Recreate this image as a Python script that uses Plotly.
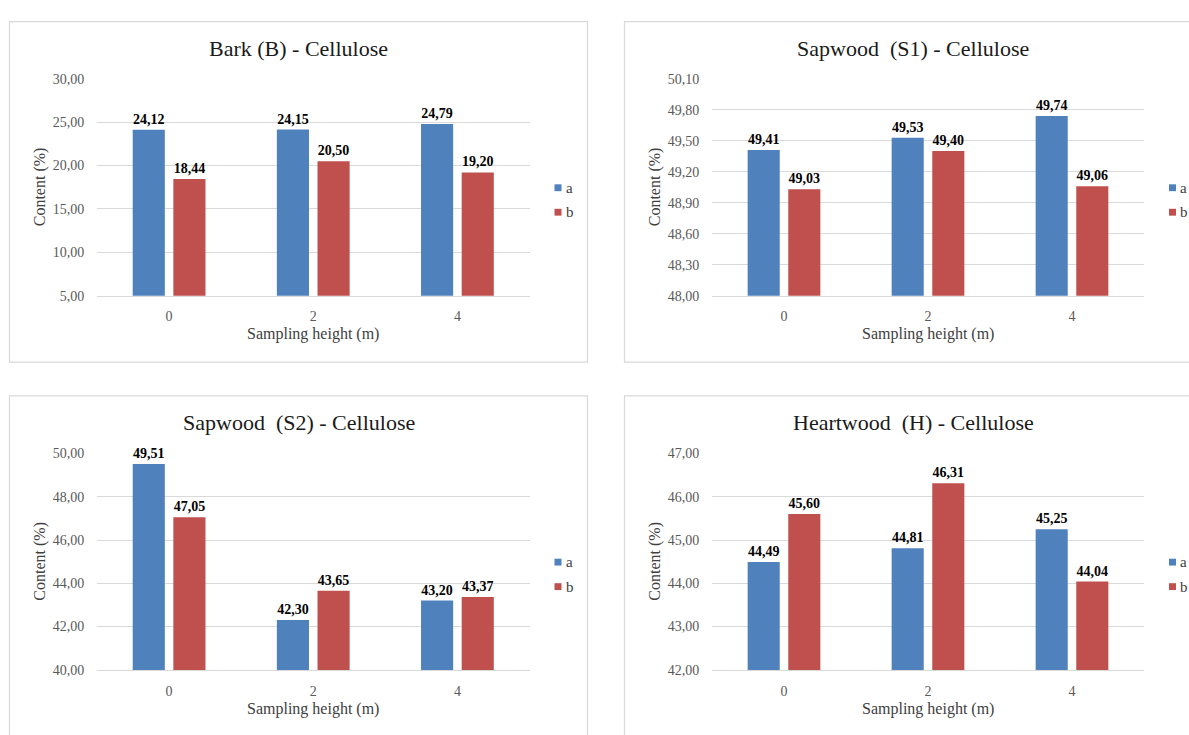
import plotly.graph_objects as go

# ---- data -------------------------------------------------------------
heights = ["0", "2", "4"]
series_names = ["a", "b"]

bark_a = [24.12, 24.15, 24.79]
bark_b = [18.44, 20.50, 19.20]

s1_a = [49.41, 49.53, 49.74]
s1_b = [49.03, 49.40, 49.06]

s2_a = [49.51, 42.30, 43.20]
s2_b = [47.05, 43.65, 43.37]

heart_a = [44.49, 44.81, 45.25]
heart_b = [45.60, 46.31, 44.04]

bark_ticks = [5, 10, 15, 20, 25, 30]
s1_ticks = [48.0, 48.3, 48.6, 48.9, 49.2, 49.5, 49.8, 50.1]
s2_ticks = [40, 42, 44, 46, 48, 50]
heart_ticks = [42, 43, 44, 45, 46, 47]

titles = [
    "Bark (B) - Cellulose",
    "Sapwood\u00a0 (S1) - Cellulose",
    "Sapwood\u00a0 (S2) - Cellulose",
    "Heartwood\u00a0 (H) - Cellulose",
]
x_title = "Sampling height (m)"
y_title = "Content (%)"

# ---- styling ----------------------------------------------------------
W, H = 1189, 735
FONT = "Liberation Serif, Times New Roman, DejaVu Serif, serif"
COLORS = ["#4F81BD", "#C0504D"]
GRID = "#D9D9D9"


def fx(px):
    return px / W


def fy(py):
    return 1 - py / H


# plot areas (pixels) for the 2x2 arrangement
cols = [(97, 529.5), (712, 1144)]
rows = [(73.3, 294.7), (455.7, 676.7)]
box_cols = [(9.5, 587.5), (624.5, 1215)]
box_rows = [(15, 362.5), (397, 760)]

panels = [
    dict(a=bark_a, b=bark_b, ticks=bark_ticks, col=0, row=0),
    dict(a=s1_a, b=s1_b, ticks=s1_ticks, col=1, row=0),
    dict(a=s2_a, b=s2_b, ticks=s2_ticks, col=0, row=1),
    dict(a=heart_a, b=heart_b, ticks=heart_ticks, col=1, row=1),
]

fig = go.Figure()
shapes = []
annotations = []

for i, p in enumerate(panels):
    n = "" if i == 0 else str(i + 1)
    xa, ya = "x" + n, "y" + n
    x0, x1 = cols[p["col"]]
    y0, y1 = rows[p["row"]]
    bx0, bx1 = box_cols[p["col"]]
    by0, by1 = box_rows[p["row"]]

    for name, vals, color in zip(series_names, [p["a"], p["b"]], COLORS):
        fig.add_trace(go.Bar(
            x=heights, y=vals, name=name, xaxis=xa, yaxis=ya,
            marker=dict(color=color, line=dict(width=0)),
            texttemplate="%{y:.2f}", textposition="outside",
            textfont=dict(family=FONT, size=14, color="#000000", weight="bold"),
            constraintext="none", cliponaxis=False, showlegend=False,
        ))

    ticks = p["ticks"]
    span = ticks[-1] - ticks[0]
    fig.update_layout({
        "xaxis" + n: dict(
            domain=[fx(x0), fx(x1)], anchor=ya, type="category",
            showgrid=False, showline=True, linecolor=GRID, linewidth=1,
            ticks="outside", ticklen=8, tickcolor="rgba(0,0,0,0)",
            tickfont=dict(family=FONT, size=14, color="#595959"),
        ),
        "yaxis" + n: dict(
            domain=[fy(y1), fy(y0)], anchor=xa,
            range=[ticks[0], ticks[-1] + span * 1e-5],
            tickvals=ticks, tickformat=".2f",
            showgrid=True, gridcolor=GRID, gridwidth=1,
            zeroline=False, showline=False,
            ticks="outside", ticklen=9, tickcolor="rgba(0,0,0,0)",
            tickfont=dict(family=FONT, size=14, color="#595959"),
        ),
    })

    # chart-area frame
    shapes.append(dict(type="rect", xref="paper", yref="paper",
                       x0=fx(bx0), x1=fx(bx1), y0=fy(by1), y1=fy(by0),
                       line=dict(color=GRID, width=1.2), fillcolor="rgba(0,0,0,0)",
                       layer="below"))

    # panel title
    annotations.append(dict(text=titles[i], xref="paper", yref="paper",
                            x=fx((bx0 + min(bx1, 1202)) / 2), y=fy(by0 + 27),
                            xanchor="center", yanchor="middle", showarrow=False,
                            font=dict(family=FONT, size=22, color="#1a1a1a")))
    # axis titles
    annotations.append(dict(text=x_title, xref="paper", yref="paper",
                            x=fx((x0 + x1) / 2), y=fy(y1 + 39.5),
                            xanchor="center", yanchor="middle", showarrow=False,
                            font=dict(family=FONT, size=16, color="#404040")))
    annotations.append(dict(text=y_title, xref="paper", yref="paper",
                            x=fx(x0 - 57), y=fy((y0 + y1) / 2),
                            xanchor="center", yanchor="middle", showarrow=False,
                            textangle=-90,
                            font=dict(family=FONT, size=16, color="#404040")))

    # legend keys to the right of the plot area
    mid = (y0 + y1) / 2 + 13
    for k, (name, color) in enumerate(zip(series_names, COLORS)):
        cy = mid + (k - 0.5) * 25
        sx = x1 + 25
        shapes.append(dict(type="rect", xref="paper", yref="paper",
                           x0=fx(sx), x1=fx(sx + 7), y0=fy(cy + 3.5), y1=fy(cy - 3.5),
                           line=dict(width=0), fillcolor=color))
        annotations.append(dict(text=name, xref="paper", yref="paper",
                                x=fx(sx + 9), y=fy(cy), xanchor="left", yanchor="middle",
                                showarrow=False,
                                font=dict(family=FONT, size=15, color="#404040")))

fig.update_layout(
    width=W, height=H, autosize=False,
    margin=dict(l=0, r=0, t=0, b=0),
    paper_bgcolor="white", plot_bgcolor="white",
    barmode="group", bargap=0.436, bargroupgap=0.21,
    separators=",.",
    shapes=shapes, annotations=annotations,
    font=dict(family=FONT),
)

fig.write_html("out.html")
